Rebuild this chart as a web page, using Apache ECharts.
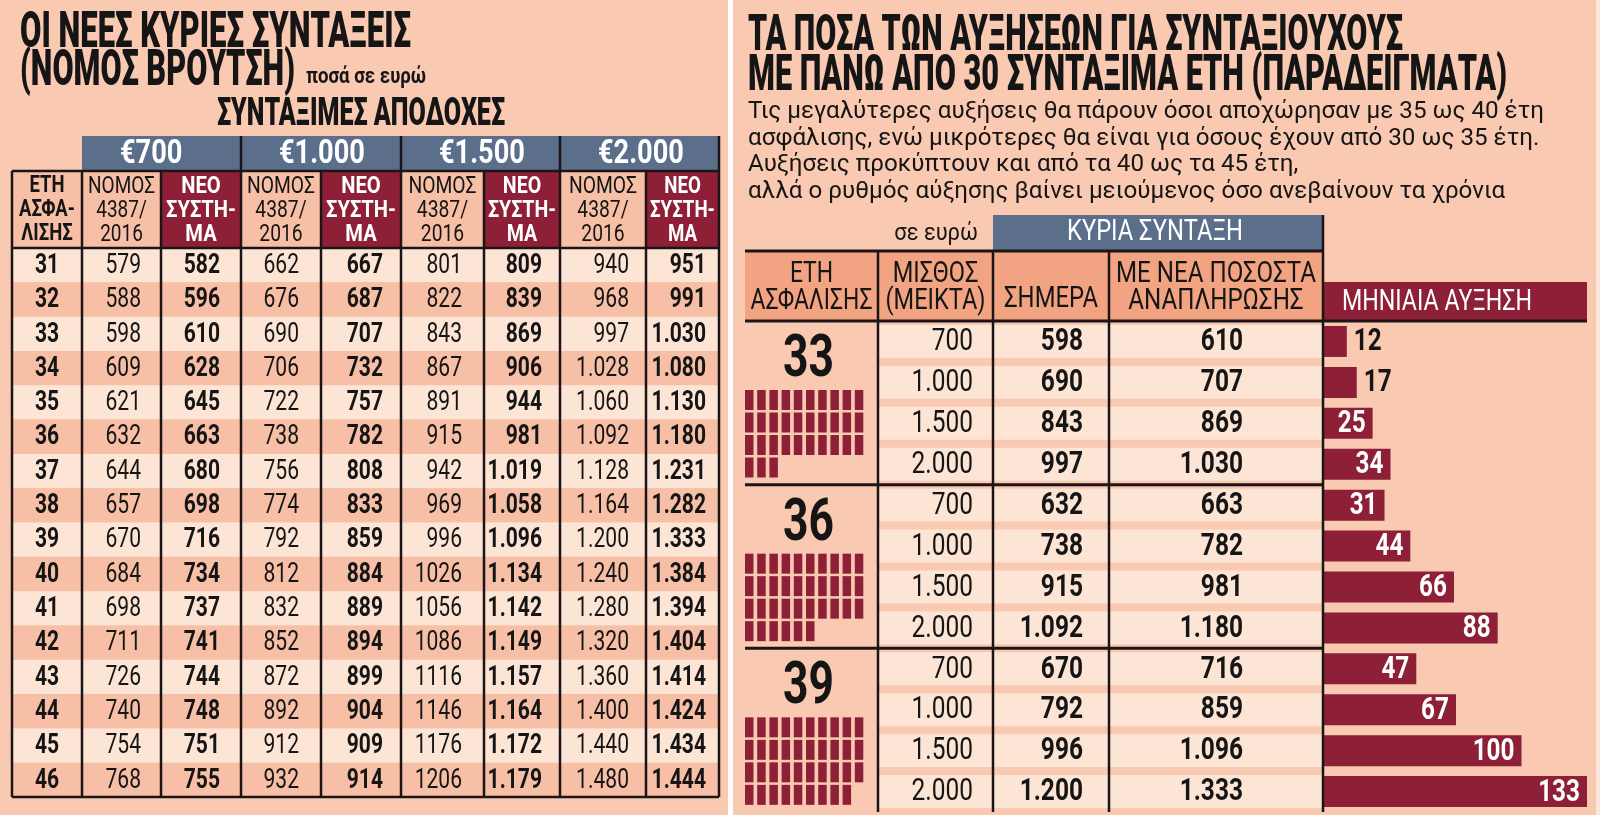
<!DOCTYPE html>
<html>
<head>
<meta charset="utf-8">
<script src="https://cdn.jsdelivr.net/npm/echarts@6/dist/echarts.min.js"></script>
<style>
html, body { margin: 0; padding: 0; background: #fff; }
#chart { width: 1600px; height: 815px; }
</style>
</head>
<body>
<div id="chart"></div>
<script>
// ---- αριστερός πίνακας: συντάξιμες αποδοχές ----
var years = [31, 32, 33, 34, 35, 36, 37, 38, 39, 40, 41, 42, 43, 44, 45, 46];
var salaryGroups = ['€700', '€1.000', '€1.500', '€2.000'];
var old700 = [579, 588, 598, 609, 621, 632, 644, 657, 670, 684, 698, 711, 726, 740, 754, 768];
var new700 = [582, 596, 610, 628, 645, 663, 680, 698, 716, 734, 737, 741, 744, 748, 751, 755];
var old1000 = [662, 676, 690, 706, 722, 738, 756, 774, 792, 812, 832, 852, 872, 892, 912, 932];
var new1000 = [667, 687, 707, 732, 757, 782, 808, 833, 859, 884, 889, 894, 899, 904, 909, 914];
var old1500 = [801, 822, 843, 867, 891, 915, 942, 969, 996, 1026, 1056, 1086, 1116, 1146, 1176, 1206];
var new1500 = [809, 839, 869, 906, 944, 981, 1019, 1058, 1096, 1134, 1142, 1149, 1157, 1164, 1172, 1179];
var old2000 = [940, 968, 997, 1028, 1060, 1092, 1128, 1164, 1200, 1240, 1280, 1320, 1360, 1400, 1440, 1480];
var new2000 = [951, 991, 1030, 1080, 1130, 1180, 1231, 1282, 1333, 1384, 1394, 1404, 1414, 1424, 1434, 1444];

// ---- δεξιός πίνακας: παραδείγματα αυξήσεων ----
var sampleYears = [33, 36, 39];
var sampleSalary = [700, 1000, 1500, 2000, 700, 1000, 1500, 2000, 700, 1000, 1500, 2000];
var pensionToday = [598, 690, 843, 997, 632, 738, 915, 1092, 670, 792, 996, 1200];
var pensionNew = [610, 707, 869, 1030, 663, 782, 981, 1180, 716, 859, 1096, 1333];
var monthlyRise = [12, 17, 25, 34, 31, 44, 66, 88, 47, 67, 100, 133];

// ---- layout ----
var FONT = 'Roboto, "Noto Sans", sans-serif';
var C = {
	bg : '#f9c9b2', cream : '#fde5d6', stripe : '#f7bfa6', blue : '#5b6f8b',
	red : '#8d1f36', head : '#f2a482', ink : '#151515', line : '#1c1416'
};
var LX = [12, 82, 161, 241, 321, 401, 484, 560, 646, 719];
var LPAD = [0, 20, 21, 22, 18, 22, 18, 17, 13];
var LY = { blue : 136, head : 171, body : 248, bottom : 797 };
var RX = [745, 878, 993, 1109, 1323, 1587];
var RPAD = [0, 20, 26, 80];
var RY = { blue : 215, head : 251, body : 321, bottom : 812, riseTop : 282 };
var ICON = { perRow : 10, pitchX : 12.2, w : 8.5, dy : 69, pitchY : 22.5, h : 20, numDy : 40 };

var ctx = document.createElement('canvas').getContext('2d');
function fit(lines, weight, size, width) {
	ctx.font = weight + ' ' + size + 'px Roboto';
	var w = 0;
	for (var i = 0; i < lines.length; i++) {
		w = Math.max(w, ctx.measureText(lines[i]).width);
	}
	return width / w;
}
function fmt(v) {
	return v >= 1000 ? Math.floor(v / 1000) + '.' + String(v % 1000 + 1000).slice(1) : String(v);
}
function plain(v) {
	return String(v);
}

// ---- grids ----
var grids = [], xAxes = [], yAxes = [], series = [];
function addGrid(x0, x1, y0, y1, rows, xMax) {
	var i = grids.length;
	grids.push({ left : x0, top : y0, width : x1 - x0, height : y1 - y0, outerBoundsMode : 'none' });
	if (xMax) {
		xAxes.push({ gridIndex : i, type : 'value', min : 0, max : xMax, show : false });
	} else {
		xAxes.push({ gridIndex : i, type : 'category', data : [''], show : false });
	}
	yAxes.push({ gridIndex : i, type : 'category', data : rows.map(String), inverse : true, show : false });
	return i;
}

function cellSeries(gi, values, o) {
	return {
		type : 'custom', xAxisIndex : gi, yAxisIndex : gi, z : 5, silent : true,
		data : values.map(function(v, i) { return [0, i, v]; }),
		renderItem : function(params, api) {
			var row = api.value(1);
			var c = api.coord([0, row]);
			var s = api.size([1, 1]);
			var x0 = c[0] - s[0] / 2, y0 = c[1] - s[1] / 2;
			var children = [];
			var fill = o.fill(row);
			if (fill) {
				children.push({ type : 'rect', shape : { x : x0, y : y0 + o.inset, width : s[0], height : s[1] - 2 * o.inset }, style : { fill : fill } });
			}
			children.push({
				type : 'text', x : o.align == 'center' ? c[0] : x0 + s[0] - o.pad, y : c[1] + 1, scaleX : o.sx,
				style : {
					text : o.fmt(api.value(2)), fontFamily : FONT, fontSize : o.size,
					fontWeight : o.bold ? 'bold' : 'normal', fill : C.ink, align : o.align, verticalAlign : 'middle'
				}
			});
			return { type : 'group', children : children };
		}
	};
}

// αριστερός πίνακας
var leftCols = [
	{ data : years, bold : true, fmt : plain },
	{ data : old700, fmt : fmt }, { data : new700, bold : true, fmt : fmt },
	{ data : old1000, fmt : fmt }, { data : new1000, bold : true, fmt : fmt },
	{ data : old1500, fmt : plain }, { data : new1500, bold : true, fmt : fmt },
	{ data : old2000, fmt : fmt }, { data : new2000, bold : true, fmt : fmt }
];
leftCols.forEach(function(col, c) {
	var gi = addGrid(LX[c], LX[c + 1], LY.body, LY.bottom, years);
	series.push(cellSeries(gi, col.data, {
		fill : function(row) { return row % 2 ? C.stripe : C.cream; },
		inset : 0, align : c == 0 ? 'center' : 'right', pad : LPAD[c],
		size : 27, bold : col.bold, sx : 0.78, fmt : col.fmt
	}));
});

// δεξιός πίνακας
var rightCols = [
	{ data : sampleSalary, bold : false },
	{ data : pensionToday, bold : true },
	{ data : pensionNew, bold : true }
];
rightCols.forEach(function(col, k) {
	var gi = addGrid(RX[k + 1], RX[k + 2], RY.body, RY.bottom, sampleSalary);
	series.push(cellSeries(gi, col.data, {
		fill : function() { return C.cream; },
		inset : 4, align : 'right', pad : RPAD[k + 1],
		size : 31, bold : col.bold, sx : 0.79, fmt : fmt
	}));
});

// έτη ασφάλισης με εικονίδια
var gYears = addGrid(RX[0], RX[1], RY.body, RY.bottom, sampleYears);
series.push({
	type : 'custom', xAxisIndex : gYears, yAxisIndex : gYears, z : 5, silent : true,
	data : sampleYears.map(function(v, i) { return [0, i, v]; }),
	renderItem : function(params, api) {
		var c = api.coord([0, api.value(1)]);
		var s = api.size([1, 1]);
		var top = c[1] - s[1] / 2, left = c[0] - s[0] / 2;
		var n = api.value(2);
		var ch = [{
			type : 'text', x : c[0] - 3, y : top + ICON.numDy, scaleX : 0.74,
			style : { text : String(n), fontFamily : FONT, fontSize : 60, fontWeight : 'bold', fill : C.ink, align : 'center', verticalAlign : 'middle' }
		}];
		for (var k = 0; k < n; k++) {
			ch.push({
				type : 'rect',
				shape : {
					x : left + (k % ICON.perRow) * ICON.pitchX,
					y : top + ICON.dy + Math.floor(k / ICON.perRow) * ICON.pitchY,
					width : ICON.w, height : ICON.h
				},
				style : { fill : C.red }
			});
		}
		return { type : 'group', children : ch };
	}
});

// μηνιαία αύξηση
var gBars = addGrid(RX[4], RX[5], RY.body, RY.bottom, sampleSalary, Math.max.apply(null, monthlyRise));
series.push({
	type : 'bar', xAxisIndex : gBars, yAxisIndex : gBars, z : 5, silent : true,
	barWidth : 31, itemStyle : { color : C.red }, data : monthlyRise
});
series.push({
	type : 'custom', xAxisIndex : gBars, yAxisIndex : gBars, z : 6, silent : true,
	data : monthlyRise.map(function(v, i) { return [v, i]; }),
	renderItem : function(params, api) {
		var v = api.value(0);
		var c = api.coord([v, api.value(1)]);
		var inside = v >= 20;
		return {
			type : 'text', x : inside ? c[0] - 7 : c[0] + 7, y : c[1] + 1, scaleX : 0.76,
			style : {
				text : String(v), fontFamily : FONT, fontSize : 32, fontWeight : 'bold',
				fill : inside ? '#ffffff' : C.ink, align : inside ? 'right' : 'left', verticalAlign : 'middle'
			}
		};
	}
});

// ---- κείμενα, επικεφαλίδες, γραμμές ----
var g = [];
function rect(x, y, w, h, fill, z) {
	return { type : 'rect', silent : true, z : z || 1, shape : { x : x, y : y, width : w, height : h }, style : { fill : fill } };
}
function line(x1, y1, x2, y2, w) {
	return { type : 'line', silent : true, z : 20, shape : { x1 : x1, y1 : y1, x2 : x2, y2 : y2 }, style : { stroke : C.line, lineWidth : w || 2.5 } };
}
function txt(text, x, y, o) {
	var lines = text.split('\n');
	var sx = o.width ? fit(lines, o.weight || 'normal', o.size, o.width) : (o.sx || 1);
	return {
		type : 'text', silent : true, z : 15, x : x, y : y, scaleX : sx,
		style : {
			text : text, fontFamily : FONT, fontSize : o.size, fontWeight : o.weight || 'normal',
			fill : o.color || C.ink, align : o.align || 'left', verticalAlign : 'middle',
			lineHeight : o.lh || o.size * 1.2
		}
	};
}

g.push(rect(728, 0, 5, 815, '#ffffff', 2));
g.push(rect(1596, 0, 4, 815, '#fde6da', 2));

// τίτλοι αριστερά
g.push(txt('ΟΙ ΝΕΕΣ ΚΥΡΙΕΣ ΣΥΝΤΑΞΕΙΣ', 20, 34, { size : 50, weight : 900, width : 391 }));
g.push(txt('(ΝΟΜΟΣ ΒΡΟΥΤΣΗ)', 20, 72, { size : 50, weight : 900, width : 275 }));
g.push(txt('ποσά σε ευρώ', 306, 77, { size : 22, weight : 'bold', width : 120 }));
g.push(txt('ΣΥΝΤΑΞΙΜΕΣ ΑΠΟΔΟΧΕΣ', 361, 115, { size : 38, weight : 900, width : 288, align : 'center' }));

// επικεφαλίδες αριστερού πίνακα
g.push(rect(LX[1], LY.blue, LX[9] - LX[1], LY.head - LY.blue, C.blue, 3));
salaryGroups.forEach(function(s, i) {
	g.push(txt(s, LX[1 + 2 * i] + 38, (LY.blue + LY.head) / 2 + 1, { size : 34, weight : 'bold', sx : 0.8, color : '#ffffff' }));
});
var headMid = (LY.head + LY.body) / 2 + 1;
g.push(rect(LX[0], LY.head, LX[1] - LX[0], LY.body - LY.head, C.stripe, 3));
g.push(txt('ΕΤΗ\nΑΣΦΑ-\nΛΙΣΗΣ', (LX[0] + LX[1]) / 2, headMid, { size : 23, weight : 'bold', width : 56, lh : 24, align : 'center' }));
for (var c = 1; c < 9; c++) {
	var isNew = c % 2 == 0;
	var w = LX[c + 1] - LX[c];
	g.push(rect(LX[c], LY.head, w, LY.body - LY.head, isNew ? C.red : C.stripe, 3));
	g.push(txt(isNew ? 'ΝΕΟ\nΣΥΣΤΗ-\nΜΑ' : 'ΝΟΜΟΣ\n4387/\n2016', (LX[c] + LX[c + 1]) / 2, headMid, {
		size : 24, weight : isNew ? 'bold' : 'normal', width : isNew ? Math.min(w - 8, 70) : Math.min(w - 12, 68), lh : 24,
		align : 'center', color : isNew ? '#ffffff' : C.ink
	}));
}
// γραμμές αριστερού πίνακα
g.push(line(LX[0], LY.head, LX[9], LY.head));
g.push(line(LX[0], LY.body, LX[9], LY.body));
g.push(line(LX[0], LY.bottom, LX[9], LY.bottom));
g.push(line(LX[0], LY.head, LX[0], LY.bottom));
for (var c = 1; c < 10; c++) {
	var fromBlue = c % 2 == 1 && c > 1;
	g.push(line(LX[c], fromBlue ? LY.blue : LY.head, LX[c], LY.bottom));
}

// τίτλοι δεξιά
g.push(txt('ΤΑ ΠΟΣΑ ΤΩΝ ΑΥΞΗΣΕΩΝ ΓΙΑ ΣΥΝΤΑΞΙΟΥΧΟΥΣ', 748, 37, { size : 50, weight : 900, width : 655 }));
g.push(txt('ΜΕ ΠΑΝΩ ΑΠΟ 30 ΣΥΝΤΑΞΙΜΑ ΕΤΗ (ΠΑΡΑΔΕΙΓΜΑΤΑ)', 748, 77, { size : 50, weight : 900, width : 759 }));
var para = [
	'Τις μεγαλύτερες αυξήσεις θα πάρουν όσοι αποχώρησαν με 35 ως 40 έτη',
	'ασφάλισης, ενώ μικρότερες θα είναι για όσους έχουν από 30 ως 35 έτη.',
	'Αυξήσεις προκύπτουν και από τα 40 ως τα 45 έτη,',
	'αλλά ο ρυθμός αύξησης βαίνει μειούμενος όσο ανεβαίνουν τα χρόνια'
];
var paraSx = fit([para[0]], 'normal', 24, 796);
para.forEach(function(p, i) {
	g.push(txt(p, 748, 112 + i * 26.5, { size : 24, sx : paraSx }));
});

// επικεφαλίδες δεξιού πίνακα
g.push(txt('σε ευρώ', 978, 234, { size : 23, sx : 0.95, align : 'right' }));
g.push(rect(RX[2], RY.blue, RX[4] - RX[2], RY.head - RY.blue, C.blue, 3));
g.push(txt('ΚΥΡΙΑ ΣΥΝΤΑΞΗ', (RX[2] + RX[4]) / 2 - 3, (RY.blue + RY.head) / 2, { size : 29, width : 176, color : '#ffffff', align : 'center' }));
g.push(rect(RX[0], RY.head, RX[4] - RX[0], RY.body - RY.head, C.head, 3));
var rHeads = [
	{ t : 'ΕΤΗ\nΑΣΦΑΛΙΣΗΣ', w : 122 },
	{ t : 'ΜΙΣΘΟΣ\n(ΜΕΙΚΤΑ)', w : 100 },
	{ t : 'ΣΗΜΕΡΑ', w : 94, low : true },
	{ t : 'ΜΕ ΝΕΑ ΠΟΣΟΣΤΑ\nΑΝΑΠΛΗΡΩΣΗΣ', w : 200 }
];
rHeads.forEach(function(h, k) {
	var y = h.low ? 300 : (RY.head + RY.body) / 2 + 2;
	g.push(txt(h.t, (RX[k] + RX[k + 1]) / 2, y, { size : 29, width : h.w, lh : 27, align : 'center' }));
});
g.push(rect(RX[4], RY.riseTop, RX[5] - RX[4], RY.body - RY.riseTop, C.red, 3));
g.push(txt('ΜΗΝΙΑΙΑ ΑΥΞΗΣΗ', RX[4] + 19, (RY.riseTop + RY.body) / 2 + 1, { size : 29, width : 190, color : '#ffffff' }));

// γραμμές δεξιού πίνακα
g.push(line(RX[0], RY.head, RX[4], RY.head, 3));
g.push(line(RX[0], RY.body, RX[5], RY.body, 3));
for (var k = 1; k < sampleYears.length; k++) {
	var gy = RY.body + k * (RY.bottom - RY.body) / sampleYears.length;
	g.push(line(RX[0], gy, RX[4], gy, 3));
}
for (var k = 1; k < 5; k++) {
	g.push(line(RX[k], k == 4 ? RY.blue : RY.head, RX[k], RY.bottom, 2.5));
}

var chart = echarts.init(document.getElementById('chart'));
chart.setOption({
	backgroundColor : C.bg,
	animation : false,
	grid : grids,
	xAxis : xAxes,
	yAxis : yAxes,
	series : series,
	graphic : { elements : g }
});
</script>
</body>
</html>
